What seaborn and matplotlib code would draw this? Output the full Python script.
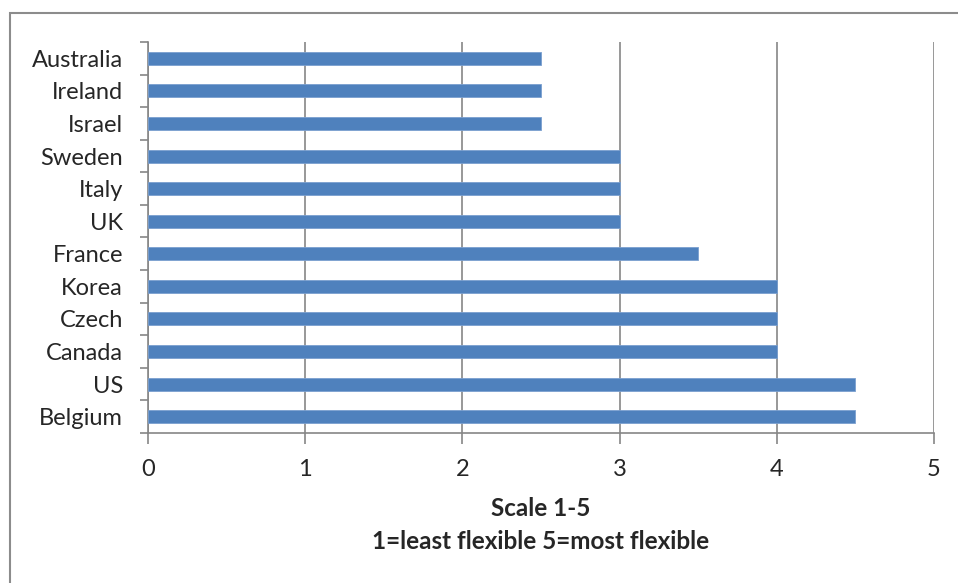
import matplotlib
matplotlib.use("Agg")
import matplotlib.pyplot as plt
from matplotlib.patches import Rectangle
import seaborn as sns
import pandas as pd

countries = ["Australia", "Ireland", "Israel", "Sweden", "Italy", "UK",
             "France", "Korea", "Czech", "Canada", "US", "Belgium"]
scores = [2.5, 2.5, 2.5, 3, 3, 3, 3.5, 4, 4, 4, 4.5, 4.5]
x_ticks = [0, 1, 2, 3, 4, 5]
x_title = "Scale 1-5\n1=least flexible 5=most flexible"

df = pd.DataFrame({"country": countries, "score": scores})

sns.set_style("white")
plt.rcParams["font.family"] = ["Lato", "DejaVu Sans"]

W, H = 958, 583
fs = 17
fig = plt.figure(figsize=(W / 100, H / 100), dpi=100)
ax = fig.add_axes([148 / W, 1 - 433 / H, (934 - 148) / W, (433 - 42) / H])

grid_col = "#868686"
sns.barplot(data=df, x="score", y="country", orient="h", ax=ax,
            color="#4F81BD", saturation=1, width=0.4,
            edgecolor="#7A9FCF", linewidth=0.6, zorder=3)

ax.set_xlim(0, 5)
ax.set_ylim(len(countries) - 0.5, -0.5)
ax.set_xticks(x_ticks)
ax.set_xticklabels([str(t) for t in x_ticks], fontsize=fs)
ax.xaxis.grid(True, color=grid_col, linewidth=1.2, zorder=0)
ax.yaxis.grid(False)

# category labels at centres, tick marks at category boundaries
ax.set_yticks(range(len(countries)))
ax.set_yticklabels(countries, fontsize=fs)
ax.set_yticks([i - 0.5 for i in range(len(countries) + 1)], minor=True)
ax.tick_params(axis="y", which="major", left=True, length=0, pad=18)
ax.tick_params(axis="y", which="minor", left=True, length=6, width=1.2,
               color=grid_col, direction="out")
ax.tick_params(axis="x", bottom=True, length=8, width=1.2, color=grid_col,
               direction="out", pad=11)

for side in ["top", "right"]:
    ax.spines[side].set_visible(False)
for side in ["left", "bottom"]:
    ax.spines[side].set_color(grid_col)
    ax.spines[side].set_linewidth(1.2)

ax.set_ylabel("")
ax.set_xlabel(x_title, fontsize=17.5, fontweight="bold", linespacing=1.55,
              va="top")
ax.xaxis.set_label_coords(0.5, -(497 - 433) / 391)

# chart frame
fig.patches.append(Rectangle((10 / W, -0.05), 1.1, 1 - 13 / H + 0.05,
                             transform=fig.transFigure, fill=False,
                             edgecolor="#8C8C8C", linewidth=1.5))

fig.savefig("out.png", dpi=100)
